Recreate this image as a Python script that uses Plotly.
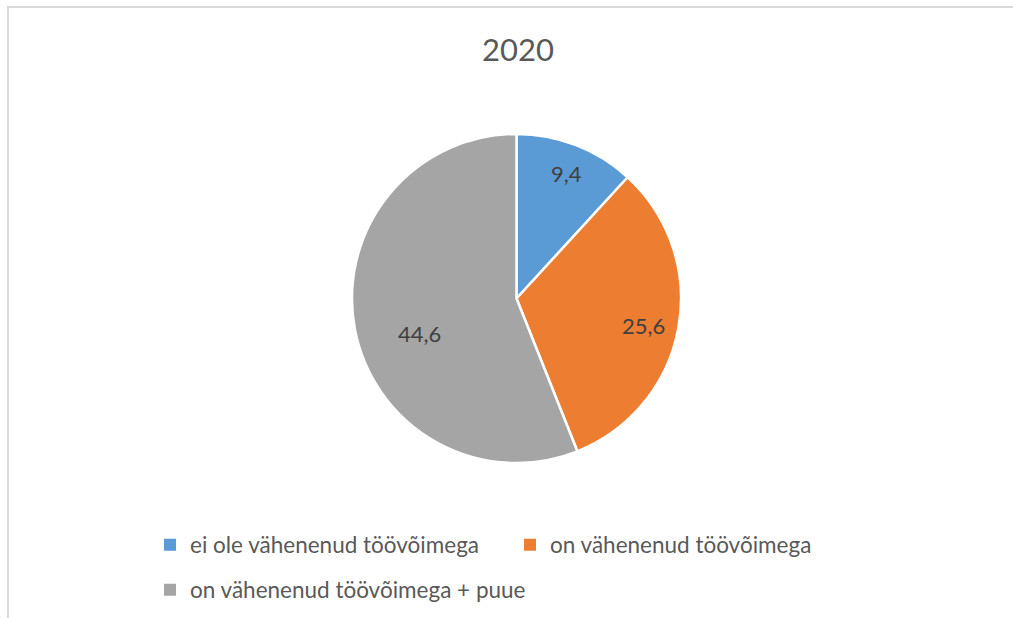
import math
import plotly.graph_objects as go

# Andmed
kategooriad = ['ei ole vähenenud töövõimega', 'on vähenenud töövõimega', 'on vähenenud töövõimega + puue']
vaartused = [9.4, 25.6, 44.6]
varvid = ['#5B9BD5', '#ED7D31', '#A5A5A5']

W, H = 1013, 618
FONT = 'Lato, Arial, sans-serif'

# pirukas pikslites (keskpunkt ja raadius)
cx, cy, R = 516.5, 298.5, 164.5
dom_x = [(cx - R) / W, (cx + R) / W]
dom_y = [1 - (cy + R) / H, 1 - (cy - R) / H]

fig = go.Figure()
fig.add_trace(go.Pie(
    labels=kategooriad,
    values=vaartused,
    sort=False,
    direction='clockwise',
    rotation=0,
    marker=dict(colors=varvid, line=dict(color='white', width=2.5)),
    textinfo='none',
    hoverinfo='label+value',
    domain=dict(x=dom_x, y=dom_y),
    showlegend=False,
))

# legend: kaks esimest ülemisse ritta, kolmas alumisse (peidetud mini-pirukad)
for i, (k, c) in enumerate(zip(kategooriad, varvid)):
    fig.add_trace(go.Pie(
        labels=[k], values=[1],
        marker=dict(colors=[c], line=dict(width=0)),
        domain=dict(x=[0, 0.0004], y=[0, 0.0004]),
        textinfo='none', hoverinfo='skip',
        legend='legend' if i < 2 else 'legend2',
    ))

# andmesildid lõikude sees (nurk andmetest, Exceli "best fit" sarnaselt)
raadiused = [0.82, 0.79, 0.63]
nurga_nihe = [0.5, 1.5, -9]
total = sum(vaartused)
cum = 0
for v, rf, dn in zip(vaartused, raadiused, nurga_nihe):
    mid = (cum + v / 2) / total * 360 + dn
    cum += v
    px = cx + rf * R * math.sin(math.radians(mid))
    py = cy - rf * R * math.cos(math.radians(mid))
    fig.add_annotation(
        x=px / W, y=1 - py / H, xref='paper', yref='paper',
        xanchor='center', yanchor='middle',
        text=f'{v:.1f}'.replace('.', ','), showarrow=False,
        font=dict(size=22, color='#404040', family=FONT),
    )

# Raam ümber diagrammi
fig.add_shape(type='line', xref='paper', yref='paper',
              x0=8 / W, x1=8 / W, y0=0, y1=1 - 7 / H,
              line=dict(color='#D9D9D9', width=2))
fig.add_shape(type='line', xref='paper', yref='paper',
              x0=7 / W, x1=1, y0=1 - 7 / H, y1=1 - 7 / H,
              line=dict(color='#D9D9D9', width=2))

leg_font = dict(size=22.5, color='#595959', family=FONT)
fig.update_layout(
    title=dict(text='2020', x=518 / W, xanchor='center', y=1 - 50 / H, yanchor='middle',
               font=dict(size=31, color='#595959', family=FONT)),
    separators=', ',
    legend=dict(
        orientation='h',
        x=150 / W, xanchor='left',
        y=1 - 545 / H, yanchor='middle',
        entrywidth=315, entrywidthmode='pixels',
        font=leg_font, traceorder='normal',
    ),
    legend2=dict(
        orientation='h',
        x=150 / W, xanchor='left',
        y=1 - 590 / H, yanchor='middle',
        font=leg_font,
    ),
    width=W, height=H,
    margin=dict(l=0, r=0, t=0, b=0),
    paper_bgcolor='white',
    plot_bgcolor='white',
    font=dict(family=FONT),
)

fig.write_html('out.html', config={'displayModeBar': False},
               post_script="document.body.style.margin='0';")
